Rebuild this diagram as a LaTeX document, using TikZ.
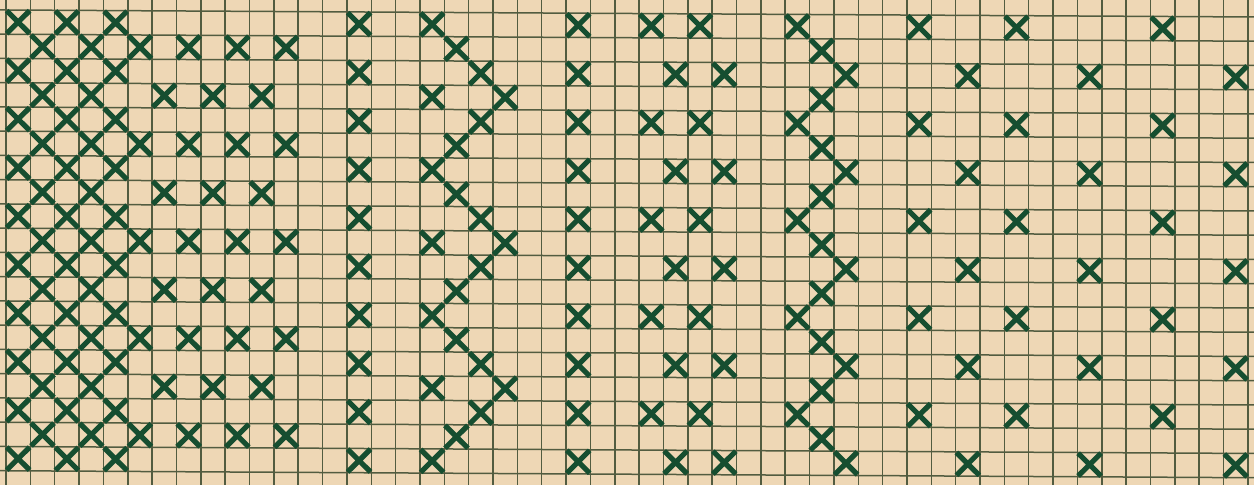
\documentclass[tikz,border=0pt]{standalone}
\definecolor{paper}{RGB}{238,215,181}
\definecolor{gridc}{RGB}{82,92,64}
\definecolor{xgreen}{RGB}{22,78,48}
\tikzset{
  gridline/.style={draw=gridc,line width=0.75pt},
  xmark/.style={draw=xgreen,line width=2.6pt,line cap=butt},
  stitch/.pic={\draw[xmark] (0.03,0.03)--(0.97,0.97) (0.97,0.03)--(0.03,0.97);}
}
\begin{document}
\begin{tikzpicture}[x=0.5pt,y=-0.5pt]
\fill[paper] (0,0) rectangle (1254,485);
\useasboundingbox (0,0) rectangle (1254,485);
\begin{scope}
\clip (0,0) rectangle (1254,485);
\begin{scope}[shift={(6,10)},x=12.175pt,y=-12.125pt,cm={1,-0.0056,0,1,(0,0)}]
  % grid
  \foreach \k in {0,...,51} \draw[gridline] (\k,-2) -- (\k,21);
  \foreach \k in {-1,...,20} \draw[gridline] (-1,\k) -- (53,\k);
  % even-row columns
  \foreach \r in {0,2,...,18}
    \foreach \c in {0,2,4,14,23} \pic at (\c,\r) {stitch};
  % odd rows of the dense lattice
  \foreach \r in {1,3,...,17}
    \foreach \c in {1,3} \pic at (\c,\r) {stitch};
  % rows 1 mod 4
  \foreach \r in {1,5,9,13,17}
    \foreach \c in {5,7,9,11} \pic at (\c,\r) {stitch};
  % rows 3 mod 4
  \foreach \r in {3,7,11,15}
    \foreach \c in {6,8,10} \pic at (\c,\r) {stitch};
  % rows 0 mod 4
  \foreach \r in {0,4,8,12,16}
    \foreach \c in {26,28,37,41,47} \pic at (\c,\r) {stitch};
  % rows 2 mod 4
  \foreach \r in {2,6,10,14,18}
    \foreach \c in {27,29,39,44,50} \pic at (\c,\r) {stitch};
  % first zigzag
  \foreach \r/\c in {0/17,1/18,2/19,3/20,4/19,5/18,6/17,7/18,8/19,9/20,10/19,11/18,12/17,13/18,14/19,15/20,16/19,17/18,18/17,3/17,9/17,15/17}
    \pic at (\c,\r) {stitch};
  % second zigzag
  \foreach \r/\c in {0/32,1/33,2/34,3/33,4/32,5/33,6/34,7/33,8/32,9/33,10/34,11/33,12/32,13/33,14/34,15/33,16/32,17/33,18/34}
    \pic at (\c,\r) {stitch};
\end{scope}
\end{scope}
\end{tikzpicture}
\end{document}
